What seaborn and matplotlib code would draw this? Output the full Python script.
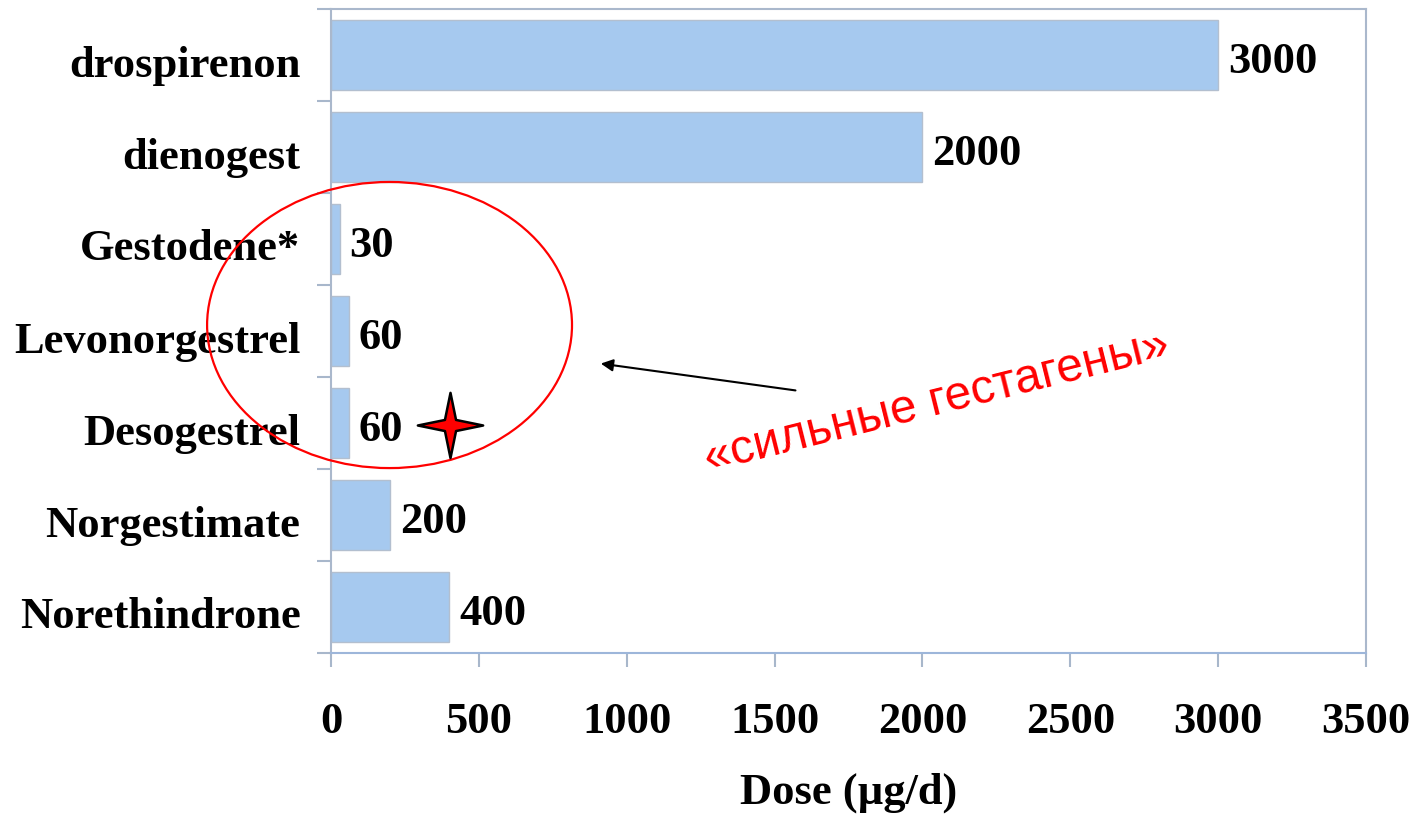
import numpy as np
import pandas as pd
import matplotlib
matplotlib.use("Agg")
import matplotlib.pyplot as plt
import matplotlib.transforms as mtransforms
import seaborn as sns
from matplotlib.patches import Ellipse
from matplotlib.path import Path

drugs = ["drospirenon", "dienogest", "Gestodene*", "Levonorgestrel",
         "Desogestrel", "Norgestimate", "Norethindrone"]
doses = [3000, 2000, 30, 60, 60, 200, 400]
x_ticks = [0, 500, 1000, 1500, 2000, 2500, 3000, 3500]
x_label = "Dose (µg/d)"
note = "«сильные гестагены»"

sns.set_style("white")
plt.rcParams["font.family"] = ["Liberation Serif", "DejaVu Serif"]
plt.rcParams["font.weight"] = "bold"
plt.rcParams["text.color"] = "black"
plt.rcParams["xtick.color"] = "black"
plt.rcParams["ytick.color"] = "black"
plt.rcParams["axes.labelcolor"] = "black"

df = pd.DataFrame({"drug": drugs, "dose": doses})

fig = plt.figure(figsize=(14.17, 8.19), dpi=100)
ax = fig.add_axes([331 / 1417, 1 - 653 / 819, (1366 - 331) / 1417, (653 - 9) / 819])

sns.barplot(data=df, x="dose", y="drug", orient="h", color="#A6C9EF",
            saturation=1, width=0.77, edgecolor="#B3BFCF", linewidth=1, ax=ax)

labels = ax.bar_label(ax.containers[0], labels=[str(v) for v in doses], padding=7,
                      fontsize=32, fontweight="bold", color="black")
for t in labels:
    t.xyann = (7, -5)

ax.set_xlim(0, 3500)
ax.set_ylim(len(drugs) - 0.5, -0.5)
ax.set_xticks(x_ticks)
ax.set_xticklabels([str(t) for t in x_ticks], fontsize=32, fontweight="bold")
ax.set_yticklabels(drugs, fontsize=32, fontweight="bold")
ax.set_yticks(np.arange(len(drugs) + 1) - 0.5, minor=True)
ax.tick_params(axis="y", which="major", left=True, length=0, pad=22)
ax.tick_params(axis="y", which="minor", left=True, length=10, width=1.5,
               color="#A8B7CB", direction="out")
ax.tick_params(axis="x", which="major", bottom=True, length=10, width=1.5,
               color="#A8B7CB", direction="out", pad=25)
ax.set_ylabel("")
ax.set_xlabel(x_label, fontsize=32, fontweight="bold")
ax.xaxis.set_label_coords(0.5, -0.186)

# shift the category labels a few pixels down, like the original rendering
down = mtransforms.ScaledTranslation(0, -6 / 100, fig.dpi_scale_trans)
for t in ax.get_yticklabels():
    t.set_transform(t.get_transform() + down)

for side in ["left", "top", "right"]:
    ax.spines[side].set_color("#AAB8CC")
    ax.spines[side].set_linewidth(1.5)
ax.spines["bottom"].set_color("#9DB6DA")
ax.spines["bottom"].set_linewidth(1.5)

# red ellipse around the strong progestins
ax.add_patch(Ellipse((198, 2.935), 1234, 3.11, fill=False, edgecolor="red",
                     linewidth=1.6, clip_on=False, zorder=5))

# arrow and note
ax.annotate("", xy=(903, 3.35), xytext=(1580, 3.65),
            arrowprops=dict(arrowstyle="-|>", color="black", lw=1.5,
                            mutation_scale=18))
ax.text(2049, 3.77, note, color="red", fontsize=34.5, fontweight="normal",
        family=["Liberation Sans", "DejaVu Sans"],
        rotation=14, rotation_mode="anchor", ha="center", va="center")

# four-pointed star next to Desogestrel
r = 0.17
star = Path([(0, 1), (r, r), (1, 0), (r, -r), (0, -1), (-r, -r), (-1, 0), (-r, r), (0, 1)],
            [Path.MOVETO] + [Path.LINETO] * 7 + [Path.CLOSEPOLY])
ax.plot([402], [4.02], marker=star, markersize=47, markerfacecolor="red",
        markeredgecolor="black", markeredgewidth=1.8, linestyle="none",
        clip_on=False, zorder=6)

fig.savefig("out.png", dpi=100)
